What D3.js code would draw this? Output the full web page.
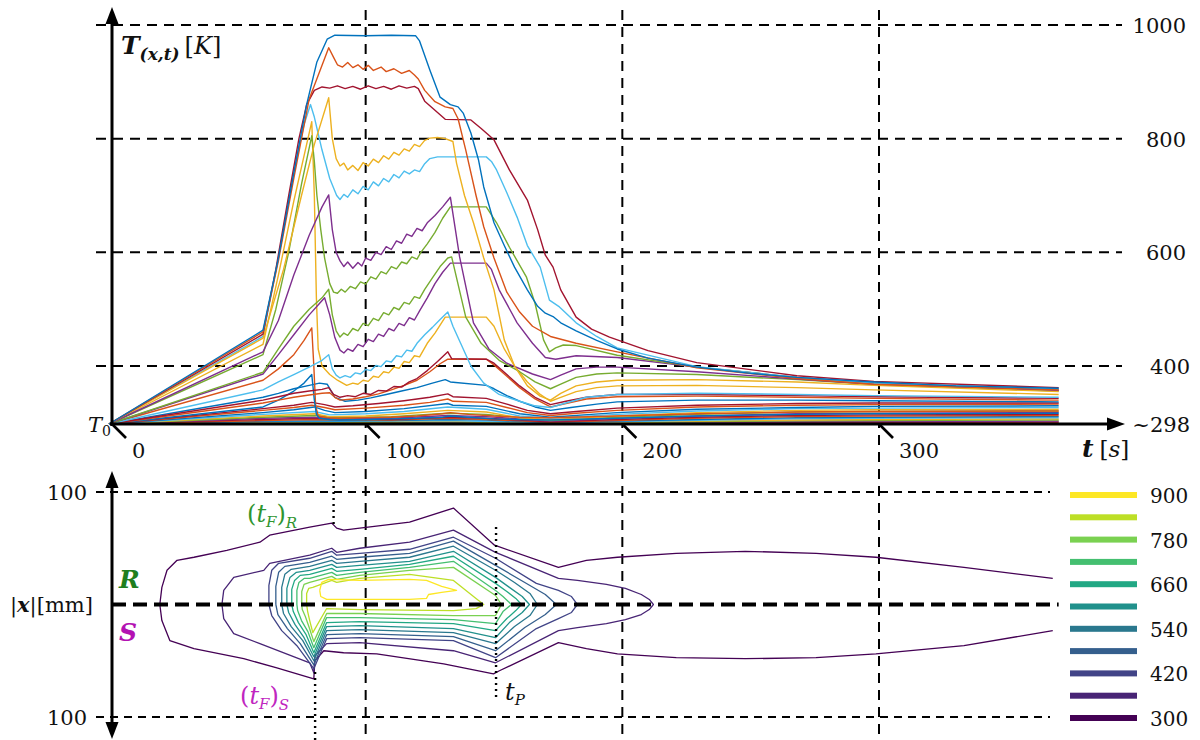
<!DOCTYPE html>
<html><head><meta charset="utf-8">
<script src="https://cdn.jsdelivr.net/npm/d3@7"></script>
<style>
body{margin:0;background:#fff;}
svg{display:block;background:#fff;}
text{font-family:"DejaVu Serif",serif;fill:#111;}
</style></head><body>
<svg id="chart" width="1200" height="740"></svg>
<script>
// ---------------- data ----------------
const tTicks = [0, 100, 200, 300];
const tempTicks = [400, 600, 800, 1000];
const tempTickLabels = ["400", "600", "800", "1000"];
const ambientLabel = "~298";
const distTicks = [100, -100];
const levels = [300, 360, 420, 480, 540, 600, 660, 720, 780, 840, 900];
const levelLabels = [300, 420, 540, 660, 780, 900];
const lineColors = ['#0072BD', '#D95319', '#EDB120', '#7E2F8E', '#77AC30', '#4DBEEE', '#A2142F'];
const markerTimes = { tFR: 87.5, tFS: 80.3, tP: 150.8 };

// temperature histories [t (s), T (K)]
const blueTop = [[0,298],[60,463],[66,590],[72,740],[77,860],[81,935],[85,975],[88,982],[100,981],[110,982],[119.5,981],[121,972],[125,921],[129,873],[133,860],[136,856],[138,845],[141,810],[144,762],[146,715],[150,652],[154,612],[158,574],[163,534],[167,505],[170,493],[173,487],[176,476],[182,462],[190,445],[198,430],[210,414],[229,398],[250,387],[268,380],[298,372],[330,365],[370,361]];
const orangeTop = [[0,298],[60,460],[66,585],[72,730],[78,870],[85.6,960],[87.5,943],[89,930],[91,926],[93,934],[95,925],[97,930],[99,922],[101,929],[103,920],[106,926],[108,918],[111,923],[114,915],[117,920],[119,912],[120.5,905],[123,885],[127,865],[131,856],[134,853],[136,835],[139,780],[143,700],[146,645],[150,590],[155,530],[160,495],[165,470],[172,452],[182,440],[198,425],[229,397],[268,378],[298,368],[370,358]];
const redTop = [[0,298],[60,456],[65,570],[70,700],[74,800],[77,860],[80,885],[83,891],[86,889],[89,893],[92,888],[95,892],[98,887],[101,893],[104,888],[107,892],[110,887],[113,893],[116,889],[119,892],[120.5,888],[123,866],[127,850],[131,834],[141,833],[145,818],[150,798],[156,745],[163,692],[167,640],[170,595],[173,574],[176,534],[182,486],[188,465],[195,451],[210,427],[229,406],[268,383],[298,373],[370,362]];
const yellowHigh = [[0,298],[60,449],[68,570],[75,700],[80,790],[85.6,872],[87,800],[88.5,765],[90,752],[91.5,757],[93,745],[95,753],[97,744],[99,758],[101,752],[103,764],[105,758],[107,770],[109,764],[111,776],[113,771],[115,782],[117,778],[119,790],[121,786],[123,797],[125,801],[128,802],[131,800],[134,795],[135.4,757],[138.5,700],[142,652],[146,590],[150,534],[154,446],[158,400],[163,365],[168,347],[172,340],[176,352],[182,365],[190,372],[198,375],[229,376],[268,372],[298,366],[370,355]];
const cyanHigh = [[0,298],[60,452],[66,590],[72,740],[76,825],[78.5,860],[80,838],[83,780],[86,730],[88.7,700],[90,693],[91.5,702],[93,697],[95,710],[97,703],[99,716],[101,710],[103,724],[105,717],[107,730],[109,724],[111,737],[113,731],[115,743],[117,738],[119,745],[121,742],[123,756],[125,765],[128,768],[147,768],[149,760],[151,745],[155,705],[159,662],[163,612],[168,574],[171.6,516],[175.5,504],[182,476],[190,452],[198,432],[229,399],[268,380],[298,370],[370,360]];
const purpleHigh = [[0,298],[60,425],[66,480],[72,560],[78,630],[83,680],[85.6,701],[87,640],[88.5,600],[90,585],[91.5,575],[93,583],[95,572],[97,582],[98.5,576],[100,590],[102,586],[104,600],[106,596],[108,610],[110,605],[112,620],[114,616],[116,632],[118,628],[120,642],[122,638],[124,652],[127,665],[130,680],[133,697],[136.6,592],[142,476],[148,430],[155,405],[165,386],[172,376],[176,384],[182,395],[190,398],[198,398],[229,390],[268,377],[298,368],[370,357]];
const greenHigh = [[0,298],[60,420],[65,500],[70,600],[75,720],[79,805],[80,760],[81,700],[82.5,640],[84,590],[86,545],[87.5,530],[89,528],[90.5,535],[92,530],[94,540],[96,536],[98,548],[100,544],[102,557],[104,553],[106,566],[108,562],[110,575],[112,571],[114,583],[116,580],[118,592],[120,588],[121.5,600],[124,615],[127,635],[130,660],[133,680],[147,680],[151,652],[156,609],[162.6,557],[166,510],[169.3,446],[171.6,425],[174,432],[177,437],[182,436],[198,419],[229,398],[268,380],[298,370],[370,358]];
const greenMid = [[0,298],[60,389],[66,430],[72,470],[78,500],[83,520],[85.6,535],[87,490],[88.5,462],[90,451],[91.5,458],[93,454],[95,466],[97,462],[99,475],[101,471],[103,484],[105,480],[107,494],[109,490],[111,503],[113,499],[115,512],[117,509],[119,522],[121,519],[123,535],[126,555],[129,575],[132,590],[133.5,592],[139,486],[145,440],[152,410],[160,390],[166,372],[172,360],[176,368],[182,380],[190,386],[198,388],[229,385],[268,376],[298,368],[370,356]];
const purpleMid = [[0,298],[60,386],[66,420],[72,455],[78,490],[82,510],[84,520],[86,490],[88,450],[90,428],[91.5,423],[93,430],[95,426],[97,438],[99,434],[101,447],[103,443],[105,456],[107,452],[109,466],[111,462],[113,475],[115,471],[117,485],[119,481],[121,497],[124,520],[127,545],[130,565],[133,581],[147,581],[149,570],[152,534],[159,476],[165,440],[170,415],[174,412],[182,418],[198,415],[229,398],[268,380],[298,370],[370,358]];
const cyanMid = [[0,298],[60,358],[66,372],[72,385],[78,398],[83,410],[85.6,420],[87,395],[88.5,384],[90,379],[92,383],[94,380],[96,388],[98,386],[100,394],[102,392],[104,401],[106,399],[108,409],[110,407],[112,418],[114,416],[116,428],[118,426],[120,440],[123,455],[126,468],[129,482],[132,495],[134,470],[137,440],[141,400],[146,370],[152,350],[160,338],[166,330],[172,327],[178,335],[186,345],[198,350],[229,352],[268,350],[298,348],[370,345]];
const yellowMid = [[0,298],[60,438],[66,560],[72,690],[77,790],[79,830],[80,700],[80.8,520],[81.5,430],[83,400],[86,385],[89,375],[92.6,366],[95,370],[97,368],[99,375],[101,373],[103,382],[105,380],[107,390],[109,388],[111,398],[113,396],[115,408],[117,406],[119,418],[121,416],[124,440],[127,458],[131,486],[147,486],[150,470],[154,430],[158,400],[163,372],[168,350],[172,338],[176,345],[182,355],[190,362],[198,365],[229,366],[268,362],[298,358],[370,350]];
const redMid = [[0,298],[60,340],[66,346],[72,352],[78,356],[83,359],[85.6,362],[87.5,350],[90,345],[93,348],[96,346],[99,352],[102,350],[105,357],[108,356],[111,364],[114,363],[117,372],[120,378],[124,392],[128,408],[132,425],[133.5,413],[147,412],[150,405],[155,385],[160,365],[166,345],[172,332],[178,338],[186,345],[198,350],[229,350],[268,348],[298,346],[370,343]];
const orangeMid = [[0,298],[60,335],[66,340],[72,345],[78,349],[83,352],[86,353],[88,345],[90,340],[95,342],[100,346],[105,351],[110,358],[115,366],[120,375],[125,390],[129,404],[132,412],[147,412],[150,402],[155,382],[160,362],[166,342],[172,328],[178,334],[186,342],[198,346],[229,347],[268,345],[298,343],[370,340]];
const blueSpike = [[0,298],[60,328],[66,340],[72,356],[76,370],[79,385],[80,340],[80.8,315],[82,308],[86,306],[90,305],[100,306],[110,307],[120,308],[130,310],[133,312],[140,310],[150,307],[160,306],[172,305],[198,308],[229,312],[268,315],[298,316],[370,317]];
const orangeSpike = [[0,298],[60,375],[66,395],[72,420],[76,445],[79,467],[79.8,400],[80.5,330],[81.5,312],[85,309],[90,308],[100,309],[110,310],[120,312],[130,316],[133,318],[140,315],[150,312],[160,310],[172,309],[198,312],[229,316],[268,319],[298,320],[370,321]];
const blueMid = [[0,298],[60,345],[66,352],[72,360],[78,366],[82,370],[85,368],[88,345],[92,338],[97,340],[102,344],[108,350],[114,356],[120,362],[126,370],[131,376],[133,372],[147,366],[150,360],[155,348],[160,338],[166,328],[172,322],[180,327],[190,333],[198,337],[229,340],[268,340],[298,339],[370,337]];
const low1 = [[0,298],[60,325],[72,331],[79,336],[84,332],[88,328],[95,330],[105,334],[115,339],[125,345],[132,351],[134,346],[147,343],[155,333],[163,322],[172,316],[182,320],[198,326],[229,331],[268,334],[298,335],[370,335]];
const low2 = [[0,298],[60,322],[72,327],[79,331],[84,327],[88,323],[100,326],[115,331],[125,336],[132,342],[134,338],[147,336],[155,327],[163,318],[172,313],[182,317],[198,322],[229,328],[268,331],[298,332],[370,333]];
const low3 = [[0,298],[60,318],[72,323],[80,328],[84,322],[88,318],[100,320],[115,325],[132,334],[134,331],[147,329],[160,316],[172,310],[185,314],[198,318],[229,324],[268,327],[298,329],[370,330]];
const low4 = [[0,298],[60,315],[80,320],[86,314],[100,316],[115,320],[132,328],[147,324],[160,312],[172,308],[198,315],[229,321],[268,325],[298,326],[370,327]];
const low5 = [[0,298],[60,312],[80,316],[86,311],[100,312],[115,316],[132,322],[147,319],[160,309],[172,306],[198,312],[229,318],[268,322],[298,323],[370,324]];
const low6 = [[0,298],[60,310],[80,313],[88,309],[110,311],[132,317],[147,315],[172,304],[198,310],[229,315],[268,319],[298,320],[370,321]];
const low7 = [[0,298],[60,308],[80,310],[88,307],[110,308],[132,313],[147,311],[172,303],[198,308],[229,312],[268,316],[298,317],[370,318]];
const low8 = [[0,298],[60,306],[80,308],[110,306],[132,310],[147,308],[172,302],[198,306],[229,310],[268,313],[298,314],[370,315]];
const low9 = [[0,298],[60,304],[80,306],[110,305],[132,308],[147,306],[172,301],[198,304],[229,308],[268,311],[298,312],[370,313]];
const low10 = [[0,298],[60,303],[110,304],[132,306],[147,305],[172,300.5],[198,303],[229,306],[268,309],[298,310],[370,311]];
const low11 = [[0,298],[60,302],[132,304],[172,300],[198,302],[229,304.5],[268,307],[298,308],[370,309]];
const low12 = [[0,298],[60,301],[132,303],[172,299.5],[198,301],[229,303],[268,305],[298,306],[370,307]];
const low13 = [[0,298],[60,300.5],[132,302],[172,299.3],[229,302],[268,303.5],[298,304],[370,305]];
const low14 = [[0,298],[60,300],[132,301],[229,301],[298,302.5],[370,303]];
const low15 = [[0,298],[132,300],[229,300],[298,301],[370,301.5]];
const low16 = [[0,298],[132,299],[298,299.5],[370,300]];

// series in drawing order: [points, colour index]
const tempSeries = [
  [low16,1],[low15,6],[low14,3],[low13,4],[low12,2],[low11,5],[low10,0],[low9,1],[low8,6],[low7,3],[low6,4],[low5,2],[low4,5],[low3,0],[low2,1],[low1,6],
  [blueMid,0],[orangeSpike,1],[blueSpike,0],[orangeMid,1],[redMid,6],[yellowMid,2],[cyanMid,5],[purpleMid,3],[greenMid,4],
  [greenHigh,4],[purpleHigh,3],[cyanHigh,5],[yellowHigh,2],[redTop,6],[orangeTop,1],[blueTop,0]
];

// isotherms [t (s), |x| (mm)], R side positive, S side negative
const iso300 = [[367.7,23.2],[333.1,33.0],[298.8,42.0],[275.5,45.5],[247.9,47.3],[221.0,45.5],[198.1,42.0],[186.0,39.3],[175.1,33.0],[150.2,52.7],[134.2,85.7],[117.1,73.2],[97.7,67.9],[91.4,66.1],[88.7,67.9],[86.8,72.3],[78.2,68.8],[62.6,61.6],[58.8,55.4],[45.9,48.2],[33.1,42.0],[26.5,39.3],[22.6,30.4],[20.6,15.2],[19.8,0],[20.6,-14.3],[23.7,-32.1],[33.1,-39.3],[52.5,-48.2],[65.4,-56.3],[79.8,-66.1],[80.2,-50.0],[83.7,-41.1],[91.4,-42.9],[104.3,-43.8],[130.4,-52.7],[149.8,-61.6],[152.1,-58.9],[175.1,-33.9],[186.0,-39.3],[198.1,-43.8],[221.0,-47.3],[247.9,-48.2],[275.5,-47.3],[298.8,-43.8],[333.1,-36.6],[367.7,-23.2]];
const iso360 = [[44.0,0],[44.7,12.5],[48.6,24.1],[60.3,30.4],[62.6,36.6],[78.2,43.8],[86.8,50.0],[88.7,46.4],[97.7,50.0],[117.1,55.4],[134.2,66.1],[150.6,46.4],[175.1,23.2],[182.5,21.4],[193.8,17.9],[201.2,14.3],[207.4,8.9],[210.5,4.5],[212.1,0],[210.5,-4.5],[207.4,-8.9],[201.2,-13.4],[193.8,-17.0],[182.5,-20.5],[175.1,-23.2],[150.6,-51.8],[134.2,-41.1],[97.7,-33.9],[84.8,-34.8],[80.2,-45.5],[79.8,-60.7],[78.2,-51.8],[58.8,-34.8],[48.6,-25.9],[44.7,-12.5],[44.0,0]];
const iso420 = [[62.3,0],[62.3,17.0],[63.4,30.4],[66.1,36.6],[78.2,41.1],[86.8,47.3],[88.7,43.8],[97.7,45.5],[117.1,49.1],[134.2,59.8],[150.6,41.1],[166.5,18.8],[175.1,12.5],[180.2,7.1],[182.5,0],[180.2,-7.1],[175.1,-12.5],[166.5,-21.4],[150.6,-47.3],[134.2,-32.1],[97.7,-29.5],[84.8,-30.4],[79.8,-57.1],[73.2,-36.6],[67.3,-23.2],[63.4,-9.8],[62.3,0]];
const iso480 = [[65.0,0],[65.0,16.1],[66.1,28.6],[68.5,33.9],[78.2,37.5],[86.8,42.9],[88.7,40.2],[97.7,42.0],[117.1,45.5],[134.2,56.3],[150.6,34.8],[162,19.6],[170,8.9],[174.3,0],[170,-8.9],[162,-20.5],[150.6,-41.1],[134.2,-28.6],[97.7,-25.9],[84.8,-26.8],[79.8,-53.6],[74.5,-34.8],[69.5,-21.4],[65.8,-8.9],[65.0,0]];
const iso540 = [[67.3,0],[67.3,15.2],[68.5,26.8],[71,31.3],[78.2,33.9],[86.8,39.3],[88.7,36.6],[97.7,38.4],[117.1,42.0],[134.2,51.8],[150.6,30.4],[158,19.6],[164,9.8],[166.9,0],[164,-9.8],[158,-19.6],[150.6,-34.8],[134.2,-25.0],[97.7,-22.3],[84.8,-23.2],[79.8,-50.0],[75.5,-32.1],[71,-19.6],[68,-8.0],[67.3,0]];
const iso600 = [[69.3,0],[69.3,14.3],[70.5,24.1],[73,28.6],[78.2,30.4],[86.8,35.7],[88.7,33.0],[97.7,34.8],[117.1,38.4],[134.2,47.3],[150.6,24.1],[156,15.2],[161,7.1],[163.8,0],[161,-7.1],[156,-16.1],[150.6,-29.5],[134.2,-21.4],[97.7,-18.8],[84.8,-19.6],[79.8,-46.4],[76,-29.5],[72.5,-17.9],[70,-7.1],[69.3,0]];
const iso660 = [[71.2,0],[71.2,13.4],[72.3,21.4],[74.5,25.9],[78.2,26.8],[86.8,32.1],[88.7,29.5],[97.7,31.3],[117.1,35.7],[134.2,42.9],[150.6,18.8],[155,11.6],[158.5,5.4],[160.7,0],[158.5,-5.4],[155,-12.5],[150.6,-23.2],[134.2,-17.0],[97.7,-15.2],[84.8,-16.1],[79.8,-42.9],[76.8,-26.8],[73.8,-16.1],[71.8,-6.3],[71.2,0]];
const iso720 = [[73.2,0],[73.2,12.5],[74,19.6],[76,23.2],[78.2,23.2],[86.8,28.6],[88.7,25.9],[97.7,28.6],[117.1,33.0],[134.2,38.4],[150.6,12.5],[153.5,7.1],[156.8,0],[153.5,-6.3],[150.6,-17.0],[134.2,-13.4],[97.7,-11.6],[84.8,-11.6],[79.8,-38.4],[77.5,-24.1],[75,-14.3],[73.5,-5.4],[73.2,0]];
const iso780 = [[75.1,0],[75.1,11.6],[76,17.9],[78.2,19.6],[86.8,25.0],[88.7,22.3],[97.7,25.9],[117.1,30.4],[134.2,33.0],[150.6,8.0],[152.9,0],[150.6,-9.8],[134.2,-9.8],[97.7,-8.0],[84.8,-8.0],[79.8,-33.0],[78,-20.5],[76.5,-10.7],[75.3,-4.5],[75.1,0]];
const iso840 = [[77.0,0],[77.0,9.8],[77.8,14.3],[79.4,15.2],[86.8,21.4],[88.7,19.6],[97.7,23.2],[117.1,26.8],[134.2,21.4],[143,5.4],[146,0],[143,-3.6],[134.2,-5.4],[97.7,-4.5],[84.8,-3.6],[79.4,-25.0],[78.2,-14.3],[77.4,-6.3],[77.0,0]];
const iso900 = [[82.1,12.5],[82.9,19.6],[85.6,22.3],[97.7,21.4],[117.1,22.3],[123.7,21.4],[129.6,16.1],[135.4,12.5],[129.6,10.7],[124.5,8.9],[123.7,5.4],[117.1,4.5],[97.7,4.5],[84.8,4.5],[82.5,7.1],[82.1,12.5]];
const isotherms = [iso300, iso360, iso420, iso480, iso540, iso600, iso660, iso720, iso780, iso840, iso900];

// ---------------- drawing ----------------
const svg = d3.select('#chart');
const x = d3.scaleLinear().domain([0, 300]).range([109, 879]);
const yT = d3.scaleLinear().domain([298, 1000]).range([424, 25]);
const yX = d3.scaleLinear().domain([-100, 100]).range([717, 492]);
const levelColor = d3.scaleSequential(d3.interpolateViridis).domain([300, 900]);
const legendY = d3.scaleLinear().domain([300, 900]).range([718, 495]);

// grid
const grid = svg.append('g').attr('stroke', '#000').attr('fill', 'none');
tempTicks.forEach(v => grid.append('line').attr('x1', 96).attr('x2', 1122).attr('y1', yT(v)).attr('y2', yT(v))
  .attr('stroke-width', 2).attr('stroke-dasharray', '10,7'));
tTicks.filter(v => v > 0).forEach(v => grid.append('line').attr('x1', x(v)).attr('x2', x(v)).attr('y1', 10).attr('y2', 740)
  .attr('stroke-width', 2).attr('stroke-dasharray', '10,7'));
distTicks.forEach(v => grid.append('line').attr('x1', 96).attr('x2', 1050).attr('y1', yX(v)).attr('y2', yX(v))
  .attr('stroke-width', 1.8).attr('stroke-dasharray', '8,6'));

// temperature curves
const lineT = d3.line().x(d => x(d[0])).y(d => yT(d[1]));
svg.append('g').selectAll('path').data(tempSeries).join('path')
  .attr('d', d => lineT(d[0])).attr('fill', 'none')
  .attr('stroke', d => lineColors[d[1]]).attr('stroke-width', 1.4).attr('stroke-linejoin', 'round');

// isotherms
const lineX = d3.line().x(d => x(d[0])).y(d => yX(d[1]));
svg.append('g').selectAll('path').data(isotherms).join('path')
  .attr('d', d => lineX(d)).attr('fill', 'none')
  .attr('stroke', (d, i) => levelColor(levels[i])).attr('stroke-width', 1.3).attr('stroke-linejoin', 'round');

// centre line
svg.append('line').attr('x1', 112).attr('x2', x(370)).attr('y1', yX(0)).attr('y2', yX(0))
  .attr('stroke', '#000').attr('stroke-width', 4).attr('stroke-dasharray', '14,7');

// axes
const ax = svg.append('g').attr('stroke', '#000').attr('stroke-width', 3);
ax.append('line').attr('x1', 112).attr('x2', 112).attr('y1', yT(298) + 2).attr('y2', 22);
ax.append('line').attr('x1', 110).attr('x2', 1110).attr('y1', yT(298)).attr('y2', yT(298));
ax.append('line').attr('x1', 112).attr('x2', 112).attr('y1', 486).attr('y2', 724);
const heads = svg.append('g').attr('fill', '#000');
heads.append('path').attr('d', 'M112,7 L105.5,24 L118.5,24 Z');
heads.append('path').attr('d', `M1125,${yT(298)} L1107,${yT(298) - 6.5} L1107,${yT(298) + 6.5} Z`);
heads.append('path').attr('d', 'M112,471 L105.5,488 L118.5,488 Z');
heads.append('path').attr('d', 'M112,739 L105.5,722 L118.5,722 Z');

// t tick marks (diagonal)
tTicks.forEach(v => {
  const px = v === 0 ? 112 : x(v);
  svg.append('line').attr('x1', px + 1).attr('y1', yT(298) + 1).attr('x2', px + 14).attr('y2', yT(298) + 14)
    .attr('stroke', '#000').attr('stroke-width', 2.6);
  svg.append('text').attr('x', px + 20).attr('y', yT(298) + 34).attr('font-size', 21).text(v);
});

// right-hand temperature labels
tempTicks.forEach((v, i) => svg.append('text').attr('x', v === 400 ? 1190 : 1186).attr('y', yT(v) + 8)
  .attr('text-anchor', 'end').attr('font-size', 21).text(tempTickLabels[i]));
svg.append('text').attr('x', 1190).attr('y', yT(298) + 8).attr('text-anchor', 'end').attr('font-size', 21).text(ambientLabel);

// bottom axis labels
distTicks.forEach(v => svg.append('text').attr('x', 87).attr('y', yX(v) + 8).attr('text-anchor', 'end')
  .attr('font-size', 21).text(Math.abs(v)));

// titles
const tt = svg.append('text').attr('x', 121).attr('y', 54);
tt.append('tspan').attr('font-size', 25).attr('font-weight', 'bold').attr('font-style', 'italic').text('T');
tt.append('tspan').attr('font-size', 17).attr('font-weight', 'bold').attr('font-style', 'italic').attr('dy', 6).text('(x,t)');
tt.append('tspan').attr('font-size', 24).attr('dy', -6).attr('dx', 5).text('[');
tt.append('tspan').attr('font-size', 24).attr('font-style', 'italic').text('K');
tt.append('tspan').attr('font-size', 24).text(']');

const ts = svg.append('text').attr('x', 1082).attr('y', 457);
ts.append('tspan').attr('font-size', 25).attr('font-weight', 'bold').attr('font-style', 'italic').text('t');
ts.append('tspan').attr('font-size', 23).attr('dx', 6).text('[');
ts.append('tspan').attr('font-size', 23).attr('font-style', 'italic').text('s');
ts.append('tspan').attr('font-size', 23).text(']');

const t0 = svg.append('text').attr('x', 88).attr('y', 432);
t0.append('tspan').attr('font-size', 21).attr('font-style', 'italic').text('T');
t0.append('tspan').attr('font-size', 14).attr('dy', 4).text('0');

const xl = svg.append('text').attr('x', 10).attr('y', 612).attr('font-size', 21);
xl.append('tspan').text('|');
xl.append('tspan').attr('font-weight', 'bold').attr('font-style', 'italic').text('x');
xl.append('tspan').text('|[mm]');

svg.append('text').attr('x', 119).attr('y', 588).attr('font-size', 25).attr('font-weight', 'bold')
  .attr('font-style', 'italic').style('fill', '#1f7f1f').text('R');
svg.append('text').attr('x', 119).attr('y', 641).attr('font-size', 25).attr('font-weight', 'bold')
  .attr('font-style', 'italic').style('fill', '#b312b3').text('S');

// dotted markers
const dot = svg.append('g').attr('stroke', '#000').attr('stroke-width', 2.4).attr('stroke-dasharray', '2,4');
dot.append('line').attr('x1', x(markerTimes.tFR)).attr('x2', x(markerTimes.tFR)).attr('y1', 450).attr('y2', 526);
dot.append('line').attr('x1', x(markerTimes.tFS)).attr('x2', x(markerTimes.tFS)).attr('y1', 672).attr('y2', 740);
dot.append('line').attr('x1', x(markerTimes.tP)).attr('x2', x(markerTimes.tP)).attr('y1', 527).attr('y2', 700);

function markLabel(px, py, sub, color) {
  const g = svg.append('text').attr('x', px).attr('y', py).attr('font-size', 24).style('fill', color);
  g.append('tspan').text('(');
  g.append('tspan').attr('font-style', 'italic').text('t');
  g.append('tspan').attr('font-style', 'italic').attr('font-size', 15).attr('dy', 5).text('F');
  g.append('tspan').attr('dy', -5).text(')');
  g.append('tspan').attr('font-style', 'italic').attr('font-size', 15).attr('dy', 6).text(sub);
}
markLabel(247, 522, 'R', '#2f952f');
markLabel(240, 704, 'S', '#c026c0');
const tp = svg.append('text').attr('x', 505).attr('y', 700).attr('font-size', 24);
tp.append('tspan').attr('font-style', 'italic').text('t');
tp.append('tspan').attr('font-style', 'italic').attr('font-size', 15).attr('dy', 5).text('P');

// legend
const lg = svg.append('g');
levels.forEach(v => {
  lg.append('rect').attr('x', 1070).attr('y', legendY(v) - 3).attr('width', 67).attr('height', 6)
    .attr('fill', levelColor(v));
});
levelLabels.forEach(v => lg.append('text').attr('x', 1150).attr('y', legendY(v) + 8).attr('font-size', 20).text(v));
</script>
</body></html>
